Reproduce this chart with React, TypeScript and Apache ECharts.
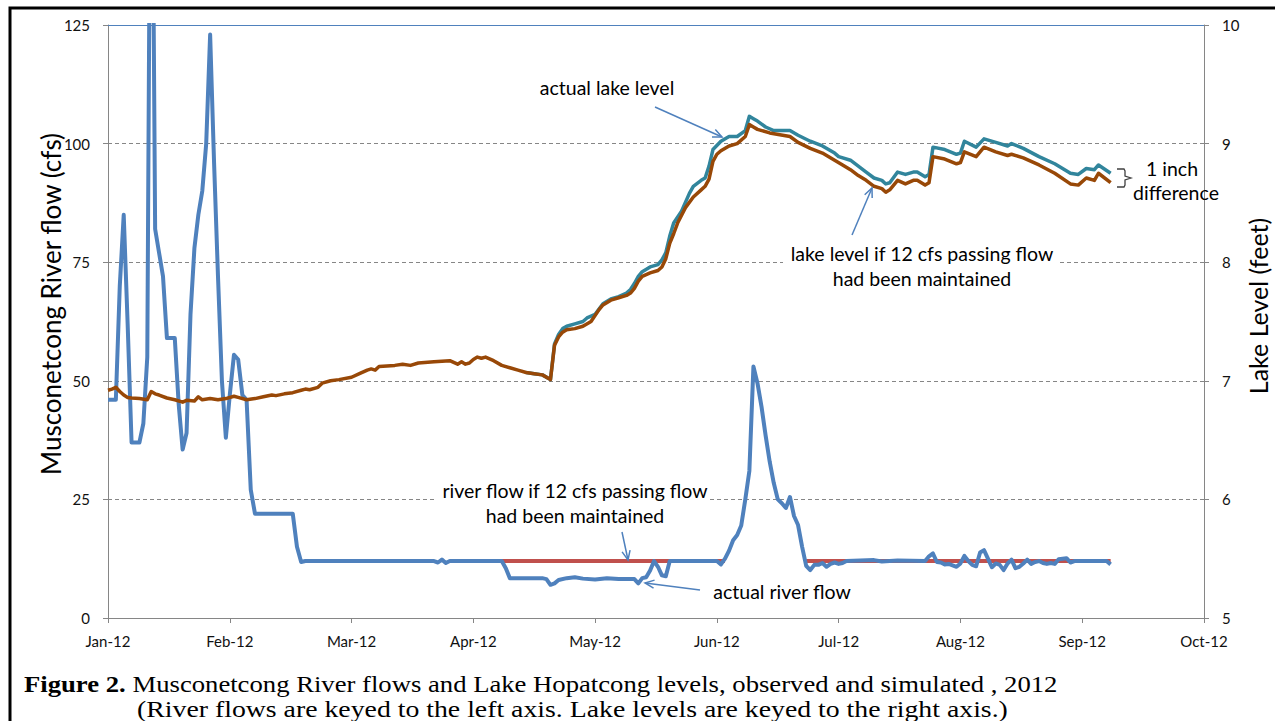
import React, { useEffect, useRef } from "react";
import * as echarts from "echarts";

// ---- axis labels ----
const monthLabels = ["Jan-12", "Feb-12", "Mar-12", "Apr-12", "May-12", "Jun-12", "Jul-12", "Aug-12", "Sep-12", "Oct-12"];
const daysInMonth2012 = [31, 29, 31, 30, 31, 30, 31, 31, 30, 31];

// ---- river flow (cfs), left axis ----
const riverActual: [string, number][] = [
  ["01-01", 46], ["01-03", 46], ["01-04", 70], ["01-05", 85], ["01-06", 62], ["01-07", 37], ["01-09", 37],
  ["01-10", 41], ["01-11", 55], ["01-12", 200], ["01-13", 82], ["01-14", 77], ["01-15", 72], ["01-16", 59],
  ["01-18", 59], ["01-19", 45], ["01-20", 35.5], ["01-21", 39], ["01-22", 64], ["01-23", 78], ["01-24", 85],
  ["01-25", 90], ["01-26", 100], ["01-27", 123], ["01-28", 96], ["01-29", 72], ["01-30", 50], ["01-31", 38],
  ["02-01", 47], ["02-02", 55.5], ["02-03", 54.5], ["02-04", 47], ["02-05", 46], ["02-06", 27], ["02-07", 22],
  ["02-16", 22], ["02-17", 15], ["02-18", 11.8], ["02-19", 12], ["03-22", 12], ["03-23", 11.7], ["03-24", 12.3],
  ["03-25", 11.6], ["03-26", 12], ["04-08", 12], ["04-09", 10.5], ["04-10", 8.4], ["04-18", 8.4], ["04-19", 8.2],
  ["04-20", 7.0], ["04-21", 7.3], ["04-22", 8.0], ["04-24", 8.4], ["04-26", 8.6], ["04-28", 8.3], ["05-01", 8.1],
  ["05-04", 8.4], ["05-07", 8.2], ["05-11", 8.2], ["05-12", 7.3], ["05-13", 8.4], ["05-14", 8.6], ["05-15", 10],
  ["05-16", 12], ["05-17", 10.8], ["05-18", 9], ["05-19", 8.8], ["05-20", 12], ["06-01", 12], ["06-02", 11.3],
  ["06-03", 12.5], ["06-04", 14.2], ["06-05", 16.4], ["06-06", 17.5], ["06-07", 19.5], ["06-08", 25], ["06-09", 31],
  ["06-10", 53], ["06-11", 49.5], ["06-12", 44.5], ["06-13", 38.5], ["06-14", 33], ["06-15", 28.5], ["06-16", 25],
  ["06-17", 24.2], ["06-18", 23.2], ["06-19", 25.5], ["06-20", 21.5], ["06-21", 19.6], ["06-22", 15], ["06-23", 11],
  ["06-24", 10.1], ["06-25", 11.2], ["06-26", 11.2], ["06-27", 11.6], ["06-28", 10.8], ["06-29", 11.4], ["06-30", 11.7],
  ["07-01", 11.4], ["07-02", 11.6], ["07-03", 12], ["07-10", 12.2], ["07-12", 11.9], ["07-16", 12.1], ["07-23", 12],
  ["07-24", 13], ["07-25", 13.6], ["07-26", 11.8], ["07-27", 11.7], ["07-28", 11.3], ["07-29", 11.4], ["07-30", 11.1],
  ["07-31", 10.8], ["08-01", 11.5], ["08-02", 13.1], ["08-03", 12], ["08-04", 11.2], ["08-05", 10.9], ["08-06", 13.8],
  ["08-07", 14.3], ["08-08", 12.5], ["08-09", 10.7], ["08-10", 11.5], ["08-11", 11.2], ["08-12", 10.1], ["08-13", 11.5],
  ["08-14", 12.3], ["08-15", 10.5], ["08-16", 10.8], ["08-17", 11.5], ["08-18", 12.3], ["08-19", 11.4], ["08-20", 11.8],
  ["08-21", 12], ["08-22", 11.6], ["08-23", 11.4], ["08-24", 11.6], ["08-25", 11.4], ["08-26", 12.4], ["08-27", 12.5],
  ["08-28", 12.6], ["08-29", 11.7], ["08-30", 12], ["09-07", 12], ["09-08", 11.3],
];

const riverSimulated: [string, number | null][] = [
  ["04-08", 12], ["06-03", 12], ["06-04", null], ["06-23", 12], ["09-08", 12],
];

// ---- lake levels (feet), right axis ----
const lakeSimulated: [string, number][] = [
  ["01-01", 6.92], ["01-02", 6.93], ["01-03", 6.945], ["01-04", 6.91], ["01-05", 6.88], ["01-06", 6.86], ["01-07", 6.855],
  ["01-09", 6.85], ["01-11", 6.84], ["01-12", 6.91], ["01-13", 6.89], ["01-14", 6.88], ["01-16", 6.855], ["01-18", 6.84],
  ["01-20", 6.82], ["01-21", 6.835], ["01-23", 6.83], ["01-24", 6.865], ["01-25", 6.84], ["01-27", 6.85], ["01-29", 6.84],
  ["01-31", 6.85], ["02-02", 6.87], ["02-03", 6.86], ["02-05", 6.84], ["02-07", 6.85], ["02-09", 6.865], ["02-11", 6.88],
  ["02-12", 6.875], ["02-14", 6.89], ["02-16", 6.9], ["02-18", 6.92], ["02-19", 6.93], ["02-20", 6.925], ["02-22", 6.945],
  ["02-23", 6.98], ["02-25", 7.0], ["02-27", 7.01], ["03-01", 7.03], ["03-03", 7.06], ["03-05", 7.09], ["03-06", 7.1],
  ["03-07", 7.09], ["03-08", 7.12], ["03-12", 7.13], ["03-14", 7.14], ["03-16", 7.13], ["03-18", 7.15], ["03-22", 7.16],
  ["03-26", 7.17], ["03-28", 7.14], ["03-29", 7.16], ["03-30", 7.14], ["03-31", 7.15], ["04-01", 7.18], ["04-02", 7.2],
  ["04-03", 7.19], ["04-04", 7.2], ["04-06", 7.17], ["04-08", 7.13], ["04-10", 7.11], ["04-12", 7.09], ["04-14", 7.07],
  ["04-16", 7.06], ["04-18", 7.05], ["04-20", 7.01], ["04-21", 7.3], ["04-22", 7.37], ["04-23", 7.41], ["04-24", 7.43],
  ["04-26", 7.44], ["04-28", 7.46], ["04-30", 7.5], ["05-02", 7.6], ["05-03", 7.64], ["05-05", 7.68], ["05-07", 7.7],
  ["05-09", 7.72], ["05-10", 7.74], ["05-11", 7.78], ["05-12", 7.84], ["05-13", 7.88], ["05-15", 7.91], ["05-17", 7.93],
  ["05-18", 7.96], ["05-19", 8.03], ["05-20", 8.16], ["05-21", 8.24], ["05-22", 8.33], ["05-24", 8.46], ["05-26", 8.55],
  ["05-28", 8.61], ["05-29", 8.64], ["05-30", 8.7], ["05-31", 8.85], ["06-01", 8.91], ["06-02", 8.94], ["06-04", 8.98],
  ["06-06", 9.0], ["06-08", 9.06], ["06-09", 9.16], ["06-10", 9.14], ["06-11", 9.12], ["06-14", 9.09], ["06-19", 9.06],
  ["06-21", 9.01], ["06-24", 8.96], ["06-27", 8.92], ["06-30", 8.86], ["07-02", 8.82], ["07-04", 8.78], ["07-06", 8.73],
  ["07-08", 8.69], ["07-10", 8.64], ["07-12", 8.62], ["07-13", 8.59], ["07-14", 8.61], ["07-16", 8.69], ["07-18", 8.66],
  ["07-20", 8.69], ["07-21", 8.69], ["07-23", 8.65], ["07-24", 8.67], ["07-25", 8.89], ["07-28", 8.87], ["07-31", 8.83],
  ["08-01", 8.84], ["08-02", 8.93], ["08-05", 8.89], ["08-07", 8.97], ["08-10", 8.93], ["08-13", 8.9], ["08-14", 8.91],
  ["08-17", 8.88], ["08-21", 8.82], ["08-25", 8.75], ["08-29", 8.66], ["08-31", 8.65], ["09-02", 8.71], ["09-04", 8.69],
  ["09-05", 8.75], ["09-08", 8.67],
];

const lakeActual: [string, number][] = [
  ["04-14", 7.07], ["04-16", 7.06], ["04-18", 7.05], ["04-20", 7.01], ["04-21", 7.31], ["04-22", 7.39], ["04-23", 7.44],
  ["04-24", 7.46], ["04-26", 7.48], ["04-28", 7.5], ["04-29", 7.53], ["05-01", 7.56], ["05-03", 7.65], ["05-05", 7.69],
  ["05-07", 7.71], ["05-09", 7.74], ["05-10", 7.77], ["05-11", 7.82], ["05-12", 7.88], ["05-13", 7.92], ["05-15", 7.96],
  ["05-17", 7.98], ["05-18", 8.02], ["05-19", 8.08], ["05-20", 8.22], ["05-21", 8.33], ["05-23", 8.43], ["05-25", 8.58],
  ["05-26", 8.64], ["05-28", 8.69], ["05-29", 8.71], ["05-30", 8.81], ["05-31", 8.95], ["06-02", 9.02], ["06-04", 9.06],
  ["06-06", 9.06], ["06-08", 9.11], ["06-09", 9.23], ["06-10", 9.21], ["06-11", 9.19], ["06-13", 9.14], ["06-15", 9.11],
  ["06-19", 9.11], ["06-21", 9.07], ["06-24", 9.02], ["06-27", 8.98], ["06-30", 8.92], ["07-01", 8.89], ["07-04", 8.86],
  ["07-06", 8.81], ["07-08", 8.76], ["07-10", 8.71], ["07-12", 8.69], ["07-13", 8.66], ["07-14", 8.67], ["07-16", 8.76],
  ["07-18", 8.74], ["07-20", 8.76], ["07-21", 8.76], ["07-23", 8.72], ["07-24", 8.74], ["07-25", 8.97], ["07-28", 8.95],
  ["07-31", 8.91], ["08-01", 8.92], ["08-02", 9.02], ["08-05", 8.97], ["08-07", 9.04], ["08-10", 9.01], ["08-13", 8.98],
  ["08-14", 9.0], ["08-17", 8.96], ["08-21", 8.89], ["08-25", 8.83], ["08-29", 8.75], ["08-31", 8.74], ["09-02", 8.79],
  ["09-04", 8.78], ["09-05", 8.82], ["09-08", 8.75],
];

// date "MM-DD" -> position on the month axis (each month one unit, as in the original)
function toMonthPos(d: string): number {
  const [mm, dd] = d.split("-").map(Number);
  return mm - 1 + (dd - 1) / daysInMonth2012[mm - 1];
}
function toData(arr: [string, number | null][]) {
  return arr.map(([d, v]) => [toMonthPos(d), v === null ? "-" : v]);
}

const SANS = "Lato, 'Liberation Sans', sans-serif";
const SERIF = "'Liberation Serif', 'DejaVu Serif', serif";
const ARROW = "#4f81bd";

function arrow(x1: number, y1: number, x2: number, y2: number) {
  const ang = Math.atan2(y2 - y1, x2 - x1);
  const L = 10, spread = 0.42;
  const p1 = [x2 - L * Math.cos(ang - spread), y2 - L * Math.sin(ang - spread)];
  const p2 = [x2 - L * Math.cos(ang + spread), y2 - L * Math.sin(ang + spread)];
  return [
    { type: "line", z: 100, shape: { x1, y1, x2, y2 }, style: { stroke: ARROW, lineWidth: 1.5 } },
    { type: "polyline", z: 100, shape: { points: [p1, [x2, y2], p2] }, style: { stroke: ARROW, lineWidth: 1.5, fill: null } },
  ];
}

function annotation(x: number, y: number, text: string, size = 19.5) {
  return {
    type: "text", z: 101, x, y,
    style: { text, fontFamily: SANS, fontSize: size, fill: "#000", align: "center", verticalAlign: "middle" },
  };
}

export default function App() {
  const ref = useRef<HTMLDivElement>(null);
  useEffect(() => {
    if (!ref.current) return;
    const chart = echarts.init(ref.current, undefined, { renderer: "svg" });
    const gray = "#868686";
    chart.setOption({
      animation: false,
      backgroundColor: "#fff",
      grid: { left: 108, right: 71, top: 25, bottom: 103, containLabel: false },
      xAxis: {
        type: "value", min: 0, max: 9, interval: 1,
        axisLine: { show: true, onZero: false, lineStyle: { color: gray, width: 1 } },
        axisTick: { show: true, inside: false, length: 5, lineStyle: { color: gray } },
        axisLabel: { formatter: (v: number) => monthLabels[Math.round(v)], fontFamily: SANS, fontSize: 15, color: "#111", margin: 15 },
        splitLine: { show: false },
      },
      yAxis: [
        {
          type: "value", min: 0, max: 125, interval: 25, position: "left",
          axisLine: { show: true, lineStyle: { color: gray, width: 1 } },
          axisTick: { show: true, inside: false, length: 5, lineStyle: { color: gray } },
          axisLabel: { fontFamily: SANS, fontSize: 15, color: "#111", margin: 18 },
          splitLine: { show: true, lineStyle: { color: gray, type: [4, 3], width: 1 } },
        },
        {
          type: "value", min: 5, max: 10, interval: 1, position: "right",
          axisLine: { show: true, lineStyle: { color: gray, width: 1 } },
          axisTick: { show: true, inside: false, length: 5, lineStyle: { color: gray } },
          axisLabel: { fontFamily: SANS, fontSize: 15, color: "#111", margin: 18 },
          splitLine: { show: false },
        },
      ],
      series: [
        {
          name: "river flow if 12 cfs passing flow had been maintained", type: "line", yAxisIndex: 0,
          data: toData(riverSimulated), showSymbol: false, symbol: "none", connectNulls: false,
          lineStyle: { color: "#c0504d", width: 4 }, z: 2,
        },
        {
          name: "actual river flow", type: "line", yAxisIndex: 0,
          data: toData(riverActual), showSymbol: false, symbol: "none",
          lineStyle: { color: "#4f81bd", width: 4, join: "round" }, z: 3,
          markLine: {
            silent: true, symbol: "none", label: { show: false },
            lineStyle: { color: "#4f81bd", type: "solid", width: 1 },
            data: [{ yAxis: 125 }],
          },
        },
        {
          name: "actual lake level", type: "line", yAxisIndex: 1,
          data: toData(lakeActual), showSymbol: false, symbol: "none",
          lineStyle: { color: "#31859c", width: 3.5, join: "round" }, z: 4,
        },
        {
          name: "lake level if 12 cfs passing flow had been maintained", type: "line", yAxisIndex: 1,
          data: toData(lakeSimulated), showSymbol: false, symbol: "none",
          lineStyle: { color: "#984807", width: 3.5, join: "round" }, z: 5,
        },
      ],
      graphic: [
        // figure frame
        { type: "rect", z: 90, shape: { x: 10, y: 8, width: 1268, height: 740 }, style: { stroke: "#000", lineWidth: 3, fill: null } },
        // axis titles
        {
          type: "text", z: 100, x: 51, y: 304, rotation: Math.PI / 2,
          style: { text: "Musconetcong River flow (cfs)", fontFamily: SANS, fontSize: 26, fill: "#000", align: "center", verticalAlign: "middle" },
        },
        {
          type: "text", z: 100, x: 1258, y: 306, rotation: Math.PI / 2,
          style: { text: "Lake Level (feet)", fontFamily: SANS, fontSize: 25, fill: "#000", align: "center", verticalAlign: "middle" },
        },
        // white boxes behind annotation texts
        { type: "rect", z: 99, shape: { x: 783, y: 240, width: 277, height: 52 }, style: { fill: "#fff" } },
        { type: "rect", z: 99, shape: { x: 437, y: 477, width: 273, height: 52 }, style: { fill: "#fff" } },
        annotation(607, 87, "actual lake level"),
        annotation(922, 253, "lake level if 12 cfs passing flow"),
        annotation(922, 278, "had been maintained"),
        annotation(575, 490, "river flow if 12 cfs passing flow"),
        annotation(575, 515, "had been maintained"),
        annotation(782, 591, "actual river flow"),
        annotation(1172, 168, "1 inch"),
        annotation(1176, 192, "difference"),
        ...arrow(655, 107, 722, 137),
        ...arrow(852, 235, 872, 188),
        ...arrow(622, 532, 628, 560),
        ...arrow(700, 590, 645, 583),
        // brace
        {
          type: "polyline", z: 100,
          shape: { points: [[1117, 169], [1124, 169], [1125, 171], [1125, 176], [1131, 178], [1125, 180], [1125, 185], [1124, 187], [1117, 187]] },
          style: { stroke: "#404040", lineWidth: 1.3, fill: null },
        },
        // caption
        {
          type: "text", z: 100, x: 24, y: 683, scaleX: 1.112,
          style: {
            text: "{b|Figure 2.}{n| Musconetcong River flows and Lake Hopatcong levels, observed and simulated , 2012}",
            verticalAlign: "middle", align: "left",
            rich: {
              b: { fontFamily: SERIF, fontSize: 24, fontWeight: "bold", fill: "#000" },
              n: { fontFamily: SERIF, fontSize: 24, fill: "#000" },
            },
          },
        },
        {
          type: "text", z: 100, x: 137, y: 709, scaleX: 1.158,
          style: {
            text: "(River flows are keyed to the left axis. Lake levels are keyed to the right axis.)",
            fontFamily: SERIF, fontSize: 24, fill: "#000", align: "left", verticalAlign: "middle",
          },
        },
      ],
    });
    return () => chart.dispose();
  }, []);
  return <div ref={ref} style={{ position: "absolute", left: 0, top: 0, width: 1275, height: 721 }} />;
}
